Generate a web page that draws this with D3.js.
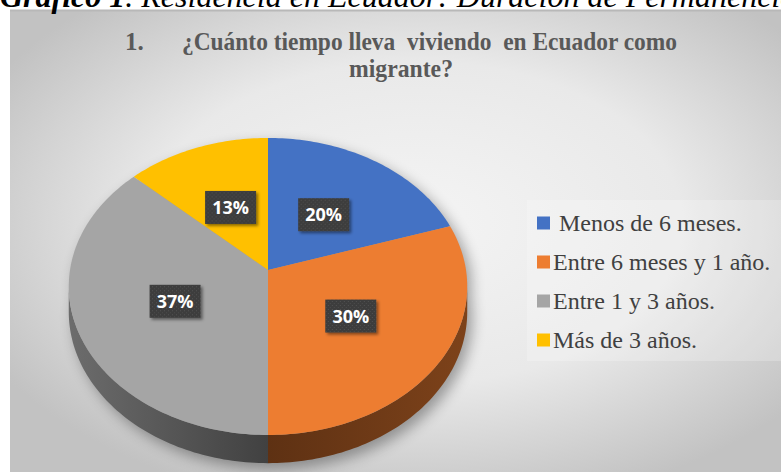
<!DOCTYPE html>
<html>
<head>
<meta charset="utf-8">
<script src="https://cdn.jsdelivr.net/npm/d3@7"></script>
<style>
  body { margin: 0; background: #fff; }
  svg { display: block; }
  text { white-space: pre; }
</style>
</head>
<body>
<div id="chart"></div>
<script>
// data
const categories = [" Menos de 6 meses.", "Entre 6 meses y 1 año.", "Entre 1 y 3 años.", "Más de 3 años."]
const values = [20, 30, 37, 13]
const colors = ["#4472C4", "#ED7D31", "#A5A5A5", "#FFC000"]
const captionBold = "Gráfico 1"
const captionRest = ". Residencia en Ecuador: Duración de Permanencia"
const titleNum = "1."
const titleLine1 = "¿Cuánto tiempo lleva  viviendo  en Ecuador como"
const titleLine2 = "migrante?"

const width = 781, height = 472

const svg = d3.select("#chart").append("svg")
  .attr("width", width)
  .attr("height", height)

const defs = svg.append("defs")

// panel background
const bg = defs.append("radialGradient").attr("id", "bg")
  .attr("cx", "52%").attr("cy", "45%").attr("r", "62%")
bg.append("stop").attr("offset", "0").attr("stop-color", "#f4f4f4")
bg.append("stop").attr("offset", "0.55").attr("stop-color", "#e9e9e9")
bg.append("stop").attr("offset", "1").attr("stop-color", "#c2c2c2")

const blur = defs.append("filter").attr("id", "blur")
  .attr("x", "-20%").attr("y", "-20%").attr("width", "140%").attr("height", "140%")
blur.append("feGaussianBlur").attr("stdDeviation", 7)

const boxShadow = defs.append("filter").attr("id", "boxShadow")
  .attr("x", "-30%").attr("y", "-30%").attr("width", "160%").attr("height", "160%")
boxShadow.append("feDropShadow").attr("dx", 2).attr("dy", 2)
  .attr("stdDeviation", 1.8).attr("flood-color", "#000").attr("flood-opacity", 0.45)

const dots = defs.append("pattern").attr("id", "dots")
  .attr("width", 4).attr("height", 4).attr("patternUnits", "userSpaceOnUse")
dots.append("rect").attr("width", 4).attr("height", 4).attr("fill", "#3c3c3c")
dots.append("rect").attr("x", 1).attr("y", 1).attr("width", 1).attr("height", 1).attr("fill", "#575757")
dots.append("rect").attr("x", 3).attr("y", 3).attr("width", 1).attr("height", 1).attr("fill", "#4d4d4d")

svg.append("rect")
  .attr("x", 10).attr("y", 10)
  .attr("width", width).attr("height", height)
  .attr("fill", "url(#bg)")
svg.append("line")
  .attr("x1", 10).attr("x2", width).attr("y1", 10.5).attr("y2", 10.5)
  .attr("stroke", "#b8b8b8").attr("stroke-width", 2)

// caption, cut by the top edge as in the source
svg.append("text")
  .attr("x", 0).attr("y", 7)
  .attr("font-family", "Liberation Serif")
  .attr("font-style", "italic")
  .attr("font-size", 32)
  .attr("fill", "#000")
  .call(t => {
    t.append("tspan").attr("font-weight", "bold").text(captionBold)
    t.append("tspan").text(captionRest)
  })

// title
const title = svg.append("g")
  .attr("font-family", "Liberation Serif")
  .attr("font-weight", "bold")
  .attr("font-size", 25)
  .attr("fill", "#595959")
title.append("text").attr("x", 125).attr("y", 50).text(titleNum)
title.append("text").attr("x", 182).attr("y", 50)
  .attr("textLength", 495).attr("lengthAdjust", "spacingAndGlyphs")
  .text(titleLine1)
title.append("text").attr("x", 401).attr("y", 77)
  .attr("text-anchor", "middle")
  .attr("textLength", 104).attr("lengthAdjust", "spacingAndGlyphs")
  .text(titleLine2)

// 3D pie with perspective
const cx = 268, cy = 270, R = 198, B = 146.7, K = 0.111, D = 25

function proj(t, f) {
  const u = Math.sin(t) * f, v = Math.cos(t) * f
  const s = 1 + K * v
  return [cx + R * u / s, cy - B * v / s]
}
function projLow(t) {
  const p = proj(t, 1)
  return [p[0], p[1] + D / (1 + K * Math.cos(t))]
}
function samples(a0, a1) {
  const n = Math.max(2, Math.ceil((a1 - a0) / 0.02))
  return d3.range(n + 1).map(i => a0 + (a1 - a0) * i / n)
}

const pie = d3.pie().sort(null).value(d => d)
const arcs = pie(values)
const line = d3.line().curve(d3.curveLinearClosed)

const tFront0 = Math.acos(-K), tFront1 = 2 * Math.PI - Math.acos(-K)

// shadow under pie
const outline = samples(0, 2 * Math.PI).map(t => {
  const c = Math.cos(t)
  return c < 0 ? projLow(t) : proj(t, 1)
})
svg.append("path")
  .attr("d", line(outline))
  .attr("transform", "translate(5,6)")
  .attr("fill", "#000")
  .attr("opacity", 0.34)
  .attr("filter", "url(#blur)")

// side walls
const pieG = svg.append("g")
arcs.forEach((a, i) => {
  const lo = Math.max(a.startAngle, tFront0), hi = Math.min(a.endAngle, tFront1)
  if (hi <= lo) return
  const base = d3.color(colors[i])
  const g = defs.append("linearGradient").attr("id", "side" + i)
    .attr("gradientUnits", "userSpaceOnUse")
    .attr("x1", cx - R).attr("x2", cx + R).attr("y1", 0).attr("y2", 0)
  g.append("stop").attr("offset", "0").attr("stop-color", base.darker(1.2))
  g.append("stop").attr("offset", "0.5").attr("stop-color", base.darker(2.6))
  g.append("stop").attr("offset", "1").attr("stop-color", base.darker(1.8))
  const ts = samples(lo, hi)
  const pts = ts.map(t => proj(t, 1)).concat(ts.slice().reverse().map(projLow))
  pieG.append("path")
    .attr("d", line(pts))
    .attr("fill", "url(#side" + i + ")")
})

// top faces
arcs.forEach((a, i) => {
  const pts = [proj(0, 0)].concat(samples(a.startAngle, a.endAngle).map(t => proj(t, 1)))
  pieG.append("path")
    .attr("d", line(pts))
    .attr("fill", colors[i])
})

// data labels
const labels = svg.append("g")
arcs.forEach((a, i) => {
  const p = proj((a.startAngle + a.endAngle) / 2, 0.5)
  const g = labels.append("g").attr("transform", `translate(${p[0]},${p[1] + 1.5})`)
  g.append("rect")
    .attr("x", -25.5).attr("y", -16.5)
    .attr("width", 51).attr("height", 33)
    .attr("fill", "url(#dots)")
    .attr("filter", "url(#boxShadow)")
  g.append("text")
    .attr("text-anchor", "middle")
    .attr("dy", "0.36em")
    .attr("font-family", "Open Sans")
    .attr("font-weight", "bold")
    .attr("font-size", 18)
    .attr("fill", "#fff")
    .text(values[i] + "%")
})

// legend
const legend = svg.append("g")
legend.append("rect")
  .attr("x", 527).attr("y", 200)
  .attr("width", width - 527).attr("height", 161)
  .attr("fill", "#fff").attr("opacity", 0.22)
const item = legend.selectAll("g.item").data(categories).join("g")
  .attr("class", "item")
  .attr("transform", (d, i) => `translate(537,${223 + i * 39})`)
item.append("rect")
  .attr("x", 0).attr("y", -6.5)
  .attr("width", 13).attr("height", 13)
  .attr("fill", (d, i) => colors[i])
item.append("text")
  .attr("x", 16).attr("dy", "0.33em")
  .attr("font-family", "Liberation Serif")
  .attr("font-size", 24)
  .attr("fill", "#404040")
  .text(d => d)
</script>
</body>
</html>
